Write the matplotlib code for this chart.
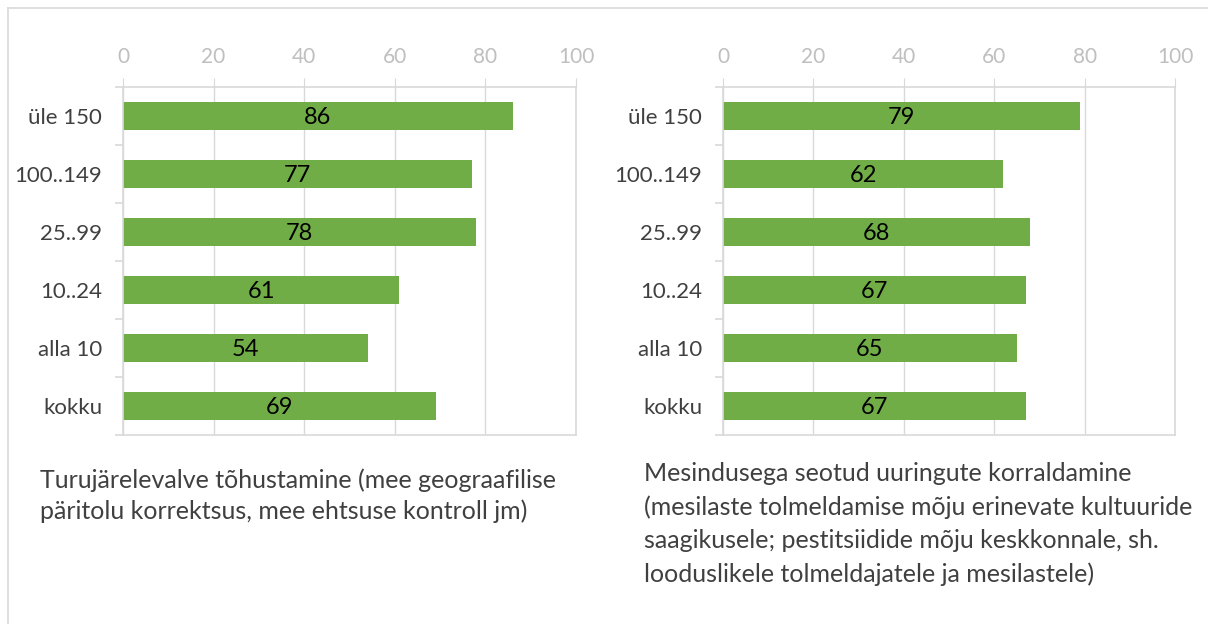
import matplotlib.pyplot as plt
from matplotlib.lines import Line2D
import numpy as np

plt.rcParams['font.family'] = ['Lato', 'DejaVu Sans']

# data
categories = ["üle 150", "100..149", "25..99", "10..24", "alla 10", "kokku"]
market_values = [86, 77, 78, 61, 54, 69]
research_values = [79, 62, 68, 67, 65, 67]
ticks = [0, 20, 40, 60, 80, 100]
market_caption = "Turujärelevalve tõhustamine (mee geograafilise\npäritolu korrektsus, mee ehtsuse kontroll jm)"
research_caption = ("Mesindusega seotud uuringute korraldamine\n"
                    "(mesilaste tolmeldamise mõju erinevate kultuuride\n"
                    "saagikusele; pestitsiidide mõju keskkonnale, sh.\n"
                    "looduslikele tolmeldajatele ja mesilastele)")

W, H = 1208, 624
green = '#70AD47'
grid = '#D9D9D9'

fig = plt.figure(figsize=(W / 100, H / 100), dpi=100)

# outer frame (top and left edges)
fig.add_artist(Line2D([8 / W, 1], [1 - 8 / H, 1 - 8 / H], color='#D9D9D9', lw=1.2))
fig.add_artist(Line2D([8 / W, 8 / W], [0, 1 - 8 / H], color='#D9D9D9', lw=1.2))


def panel(x0, x1, values, caption, cap_x, cap_y, spacing):
    top, bottom = 87, 435
    ax = fig.add_axes([x0 / W, 1 - bottom / H, (x1 - x0) / W, (bottom - top) / H])
    y = np.arange(len(categories))
    bars = ax.barh(y, values, height=0.47, color=green, zorder=2)
    for b, v in zip(bars, values):
        ax.text(b.get_width() / 2, b.get_y() + b.get_height() / 2 + 0.02, str(v),
                ha='center', va='center', fontsize=17, color='black', zorder=3)
    ax.set_xlim(0, 100)
    ax.set_ylim(len(categories) - 0.5, -0.5)
    ax.xaxis.tick_top()
    ax.set_xticks(ticks)
    ax.tick_params(axis='x', length=6.5, color=grid, labelcolor='#BFBFBF',
                   labelsize=15, pad=8)
    ax.set_yticks(y)
    ax.set_yticklabels(categories)
    ax.tick_params(axis='y', which='major', length=0, labelsize=16,
                   labelcolor='#404040', pad=15)
    ax.set_yticks(np.arange(-0.5, len(categories)), minor=True)
    ax.tick_params(axis='y', which='minor', length=6, color=grid, width=1.2)
    ax.grid(axis='x', color=grid, lw=1, zorder=0)
    for s in ax.spines.values():
        s.set_color(grid)
        s.set_linewidth(1.2)
    fig.text(cap_x / W, 1 - cap_y / H, caption, ha='left', va='top',
             fontsize=18, color='#404040', linespacing=spacing)


panel(123, 576, market_values, market_caption, 40, 468, 1.42)
panel(723, 1175, research_values, research_caption, 644, 462, 1.53)

fig.savefig('out.png', dpi=100)
